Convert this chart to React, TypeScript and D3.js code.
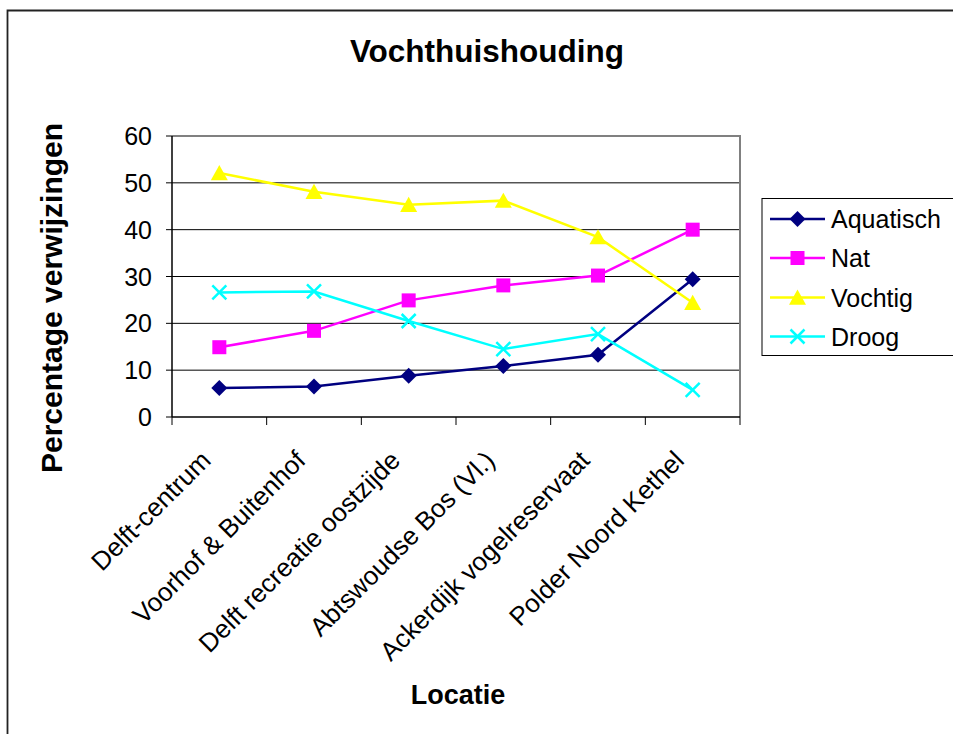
import * as d3 from 'd3';

// Data
const locaties = [
  'Delft-centrum',
  'Voorhof & Buitenhof',
  'Delft recreatie oostzijde',
  'Abtswoudse Bos (Vl.)',
  'Ackerdijk vogelreservaat',
  'Polder Noord Kethel',
];
const aquatisch = [6.2, 6.5, 8.8, 10.9, 13.3, 29.4];
const nat = [14.9, 18.4, 24.9, 28.1, 30.2, 40.0];
const vochtig = [52.1, 48.1, 45.3, 46.2, 38.4, 24.4];
const droog = [26.6, 26.8, 20.5, 14.5, 17.7, 5.8];
const yTicks = [0, 10, 20, 30, 40, 50, 60];

const seriesList = [
  { name: 'Aquatisch', values: aquatisch, color: '#000080', symbol: 'diamond' },
  { name: 'Nat', values: nat, color: '#FF00FF', symbol: 'square' },
  { name: 'Vochtig', values: vochtig, color: '#FFFF00', symbol: 'triangle' },
  { name: 'Droog', values: droog, color: '#00FFFF', symbol: 'x' },
];

const W = 953;
const H = 734;
const plot = { left: 172, right: 740, top: 136, bottom: 417 };
const font = 'Arial, "Liberation Sans", Helvetica, sans-serif';

function Marker({ symbol, color, x, y }: { symbol: string; color: string; x: number; y: number }) {
  if (symbol === 'diamond') {
    const r = 8;
    return <path d={`M${x},${y - r}L${x + r},${y}L${x},${y + r}L${x - r},${y}Z`} fill={color} />;
  }
  if (symbol === 'square') {
    const s = 7;
    return <rect x={x - s} y={y - s} width={s * 2} height={s * 2} fill={color} />;
  }
  if (symbol === 'triangle') {
    const s = 8;
    return <path d={`M${x},${y - s}L${x + s + 0.5},${y + s * 0.9}L${x - s - 0.5},${y + s * 0.9}Z`} fill={color} />;
  }
  const s = 7;
  return (
    <path
      d={`M${x - s},${y - s}L${x + s},${y + s}M${x - s},${y + s}L${x + s},${y - s}`}
      stroke={color}
      strokeWidth={2.5}
      fill="none"
    />
  );
}

export default function App() {
  const xBand = d3.scaleBand<string>().domain(locaties).range([plot.left, plot.right]).padding(0);
  const y = d3.scaleLinear().domain([0, 60]).range([plot.bottom, plot.top]);
  const cx = (c: string) => (xBand(c) || 0) + xBand.bandwidth() / 2;

  const line = d3
    .line<number>()
    .x((_, i) => cx(locaties[i]))
    .y((d) => y(d));

  const boundaries = locaties.map((c) => xBand(c) || 0).concat([plot.right]);

  const legendRows = [219, 258, 297.5, 336.5];

  return (
    <svg
      width={W}
      height={H}
      style={{ position: 'absolute', left: 0, top: 0, background: '#fff' }}
      fontFamily={font}
    >
      {/* chart frame */}
      <path d={`M7.5,${H + 2}V10.5H${W + 2}`} fill="none" stroke="#222" strokeWidth={1.8} />

      <text x={487} y={62} textAnchor="middle" fontSize={31.5} fontWeight="bold" fill="#000">
        Vochthuishouding
      </text>

      {/* gridlines */}
      {yTicks.filter((t) => t > 0 && t < 60).map((t) => (
        <line key={t} x1={plot.left} x2={plot.right} y1={y(t)} y2={y(t)} stroke="#000" strokeWidth={1} />
      ))}
      {/* plot area border top/right */}
      <path
        d={`M${plot.left},${y(60)}H${plot.right}V${plot.bottom}`}
        fill="none"
        stroke="#808080"
        strokeWidth={2}
      />

      {/* y axis */}
      <line x1={plot.left} x2={plot.left} y1={plot.top} y2={plot.bottom} stroke="#000" strokeWidth={1.5} />
      {yTicks.map((t) => (
        <g key={t}>
          <line x1={plot.left - 6} x2={plot.left} y1={y(t)} y2={y(t)} stroke="#000" strokeWidth={1} />
          <text x={152} y={y(t)} dy="0.36em" textAnchor="end" fontSize={25} fill="#000">
            {t}
          </text>
        </g>
      ))}

      {/* x axis */}
      <line x1={plot.left} x2={plot.right} y1={plot.bottom} y2={plot.bottom} stroke="#000" strokeWidth={1.5} />
      {boundaries.map((bx, i) => (
        <line key={i} x1={bx} x2={bx} y1={plot.bottom} y2={plot.bottom + 8} stroke="#000" strokeWidth={1} />
      ))}
      {locaties.map((c) => (
        <text
          key={c}
          transform={`translate(${cx(c) - 7},${plot.bottom + 45}) rotate(-45)`}
          textAnchor="end"
          fontSize={26}
          fill="#000"
        >
          {c}
        </text>
      ))}

      {/* axis titles */}
      <text
        transform={`translate(62,298) rotate(-90)`}
        textAnchor="middle"
        fontSize={30}
        fontWeight="bold"
        fill="#000"
      >
        Percentage verwijzingen
      </text>
      <text x={458} y={704} textAnchor="middle" fontSize={27} fontWeight="bold" fill="#000">
        Locatie
      </text>

      {/* series */}
      {seriesList.map((s) => (
        <g key={s.name}>
          <path d={line(s.values) || ''} fill="none" stroke={s.color} strokeWidth={2.5} />
          {s.values.map((v, i) => (
            <Marker key={i} symbol={s.symbol} color={s.color} x={cx(locaties[i])} y={y(v)} />
          ))}
        </g>
      ))}

      {/* legend */}
      <rect x={762} y={198.5} width={200} height={157} fill="#fff" stroke="#000" strokeWidth={1} />
      {seriesList.map((s, i) => (
        <g key={s.name}>
          <line x1={770} x2={825} y1={legendRows[i]} y2={legendRows[i]} stroke={s.color} strokeWidth={2.5} />
          <Marker symbol={s.symbol} color={s.color} x={797.5} y={legendRows[i]} />
          <text x={831} y={legendRows[i]} dy="0.36em" fontSize={25} fill="#000">
            {s.name}
          </text>
        </g>
      ))}
    </svg>
  );
}
